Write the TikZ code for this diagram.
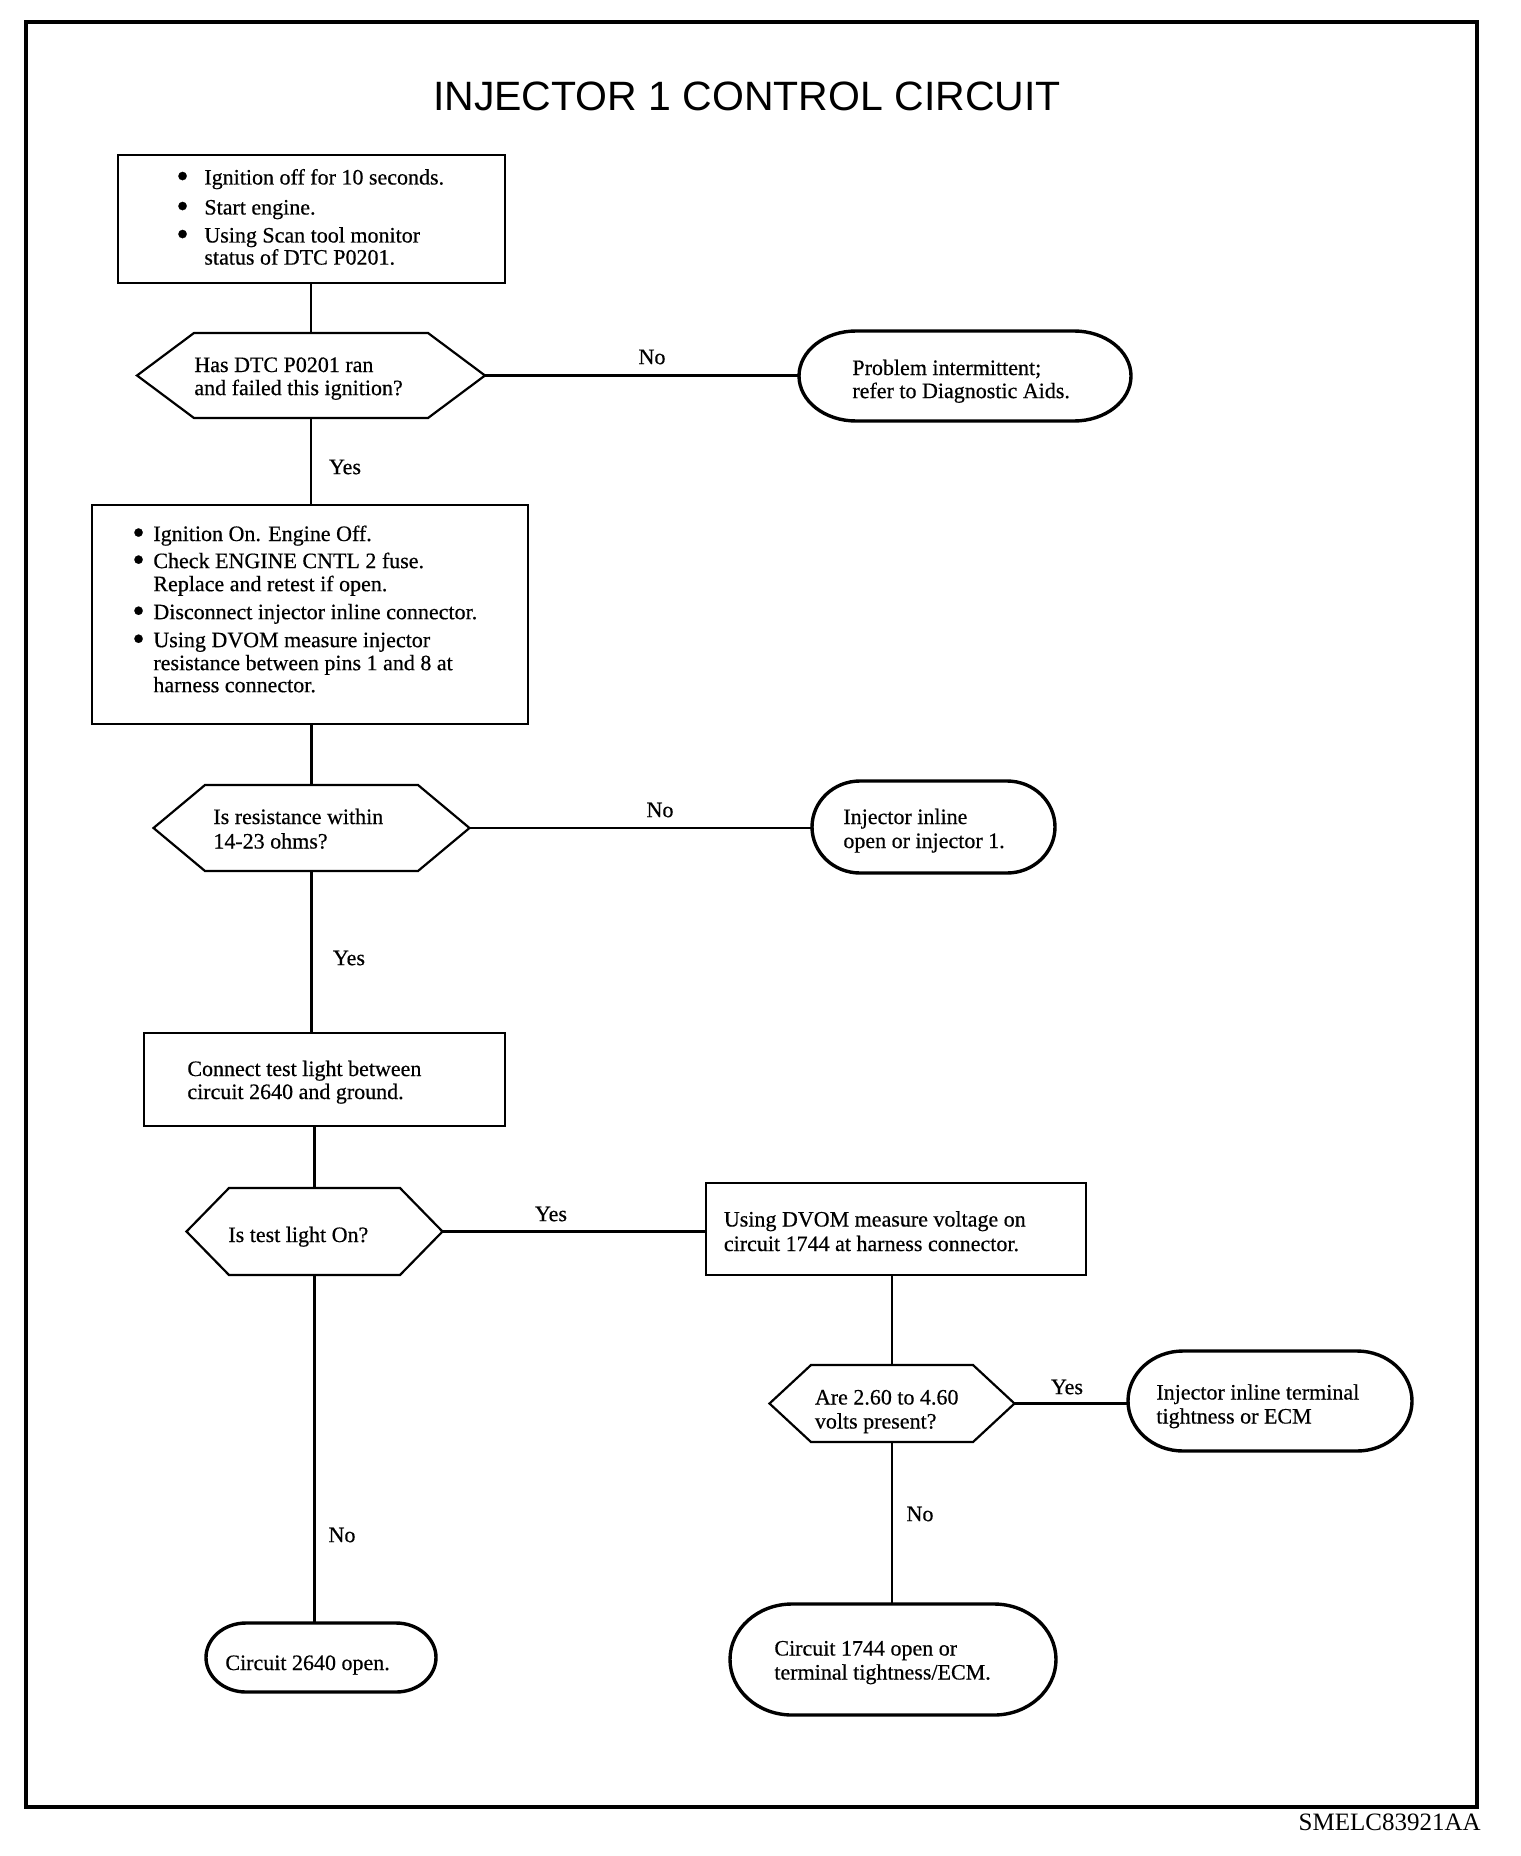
\documentclass[tikz,border=0pt]{standalone}
\usepackage{fontspec}
\setmainfont{Liberation Serif}
\newfontfamily\heavyfam{Liberation Serif}[FakeBold=0.5]
\newfontfamily\titlefont{Liberation Sans}
\usetikzlibrary{calc}
\newcommand\bodyfont{\heavyfam\fontsize{11pt}{11pt}\selectfont}
\newcommand\bigbul{\raisebox{-1.6pt}{\scalebox{1.6}{\textbullet}}}
\newcommand\bulA{\makebox[14pt][l]{\bigbul}}
\newcommand\bulB{\makebox[9.5pt][l]{\hspace{-1pt}\bigbul}}
\newcommand\hexdraw[2]{%
  \draw[hexst] (#1.north west) -- (#1.north east) -- ([xshift=#2]#1.east) -- (#1.south east) -- (#1.south west) -- ([xshift=-#2]#1.west) -- cycle;
  \coordinate (#1R) at ([xshift=#2]#1.east);}
\newcommand\stad[3]{%
  \draw[termst] ([xshift=#2]#1.north west) -- ([xshift=-#2]#1.north east)
    arc[start angle=90,end angle=-90,x radius=#2,y radius=#3]
    -- ([xshift=#2]#1.south west)
    arc[start angle=270,end angle=90,x radius=#2,y radius=#3] -- cycle;}
\tikzset{
  shapebody/.style={inner sep=0pt, outer sep=0pt},
  boxst/.style={shapebody, draw, line width=1.2pt},
  hexst/.style={line width=1.1pt, line join=miter},
  termst/.style={line width=1.7pt},
  conn/.style={line width=1.1pt},
  txt/.style={inner sep=0pt, anchor=base west, font=\bodyfont},
  lbl/.style={inner sep=0pt, font=\bodyfont},
}
\begin{document}
\begin{tikzpicture}[x=0.5pt,y=-0.5pt]
\useasboundingbox (0,0) rectangle (1520,1856);
\draw[line width=2.3pt] (26,22) rectangle (1477,1807);
\node[font=\titlefont\fontsize{20.5pt}{24pt}\selectfont, inner sep=0pt] (title) at (747,96) {INJECTOR 1 CONTROL CIRCUIT};
\node[inner sep=0pt, anchor=east, font=\fontsize{12.5pt}{14pt}\selectfont] (code) at (1481,1822) {SMELC83921AA};

% shapes
\node[boxst, minimum width=193.5pt, minimum height=64pt] (b1) at (311.5,219) {};
\node[shapebody, minimum width=117pt, minimum height=42.5pt] (h1) at (311,375.5) {};
\hexdraw{h1}{28.5pt}
\node[shapebody, minimum width=166pt, minimum height=45pt] (t1) at (965,376) {};
\stad{t1}{28.5pt}{22.5pt}
\node[boxst, minimum width=218pt, minimum height=109.5pt] (b2) at (310,614.5) {};
\node[shapebody, minimum width=106.5pt, minimum height=43pt] (h2) at (311.5,828) {};
\hexdraw{h2}{25.75pt}
\node[shapebody, minimum width=121.5pt, minimum height=46pt] (t2) at (933.5,827) {};
\stad{t2}{24pt}{23pt}
\node[boxst, minimum width=180.5pt, minimum height=46.5pt] (b3) at (324.5,1079.5) {};
\node[shapebody, minimum width=85.5pt, minimum height=43.5pt] (h3) at (314.5,1231.5) {};
\hexdraw{h3}{21.25pt}
\node[boxst, minimum width=190pt, minimum height=46pt] (b4) at (896,1229) {};
\node[shapebody, minimum width=81pt, minimum height=38.5pt] (h4) at (892,1403.5) {};
\hexdraw{h4}{20.75pt}
\node[shapebody, minimum width=142pt, minimum height=50pt] (t3) at (1270,1401) {};
\stad{t3}{27.5pt}{25pt}
\node[shapebody, minimum width=163pt, minimum height=55.5pt] (t4) at (893,1659.5) {};
\stad{t4}{31pt}{27.75pt}
\node[shapebody, minimum width=115pt, minimum height=34.5pt] (t5) at (321,1657.5) {};
\stad{t5}{20pt}{17.25pt}

% connectors
\draw[conn] (h1.north |- b1.south) -- (h1.north);
\draw[conn] (h1R) -- (h1R -| t1.west);
\draw[conn] (h1.south) -- (h1.south |- b2.north);
\draw[conn] (h2.north |- b2.south) -- (h2.north);
\draw[conn] (h2R) -- (h2R -| t2.west);
\draw[conn] (h2.south) -- (h2.south |- b3.north);
\draw[conn] (h3.north |- b3.south) -- (h3.north);
\draw[conn] (h3R) -- (h3R -| b4.west);
\draw[conn] (h3.south) -- (h3.south |- t5.north);
\draw[conn] (h4.north |- b4.south) -- (h4.north);
\draw[conn] (h4R) -- (h4R -| t3.west);
\draw[conn] (h4.south) -- (h4.south |- t4.north);

% labels
\node[lbl] (no1) at (652,357) {No};
\node[lbl] (yes1) at (345,467) {Yes};
\node[lbl] (no2) at (660,810) {No};
\node[lbl] (yes2) at (349,958) {Yes};
\node[lbl] (yes3) at (551,1214) {Yes};
\node[lbl] (no4) at (342,1535) {No};
\node[lbl] (yes4) at (1067,1387) {Yes};
\node[lbl] (no3) at (920,1514) {No};

% texts
\node[txt] (x1) at (176,184.5) {\begin{tabular}[t]{@{}l@{}}\bulA Ignition off for 10 seconds.\\[4pt]\bulA Start engine.\\[3pt]\bulA Using Scan tool monitor\\\hspace{14pt}status of DTC P0201.\end{tabular}};
\node[txt] (x2) at (134,541) {\begin{tabular}[t]{@{}l@{}}\bulB Ignition On. Engine Off.\\[2.5pt]\bulB Check ENGINE CNTL 2 fuse.\\[0.5pt]\hspace{9.5pt}Replace and retest if open.\\[3pt]\bulB Disconnect injector inline connector.\\[3pt]\bulB Using DVOM measure injector\\[0.5pt]\hspace{9.5pt}resistance between pins 1 and 8 at\\\hspace{9.5pt}harness connector.\end{tabular}};
\node[txt] (x3) at (194,372) {\begin{tabular}[t]{@{}l@{}}Has DTC P0201 ran\\[0.5pt]and failed this ignition?\end{tabular}};
\node[txt] (x4) at (852,375) {\begin{tabular}[t]{@{}l@{}}Problem intermittent;\\[0.5pt]refer to Diagnostic Aids.\end{tabular}};
\node[txt] (x5) at (213,824) {\begin{tabular}[t]{@{}l@{}}Is resistance within\\[1.25pt]14-23 ohms?\end{tabular}};
\node[txt] (x6) at (843,824) {\begin{tabular}[t]{@{}l@{}}Injector inline\\[1pt]open or injector 1.\end{tabular}};
\node[txt] (x7) at (187,1076) {\begin{tabular}[t]{@{}l@{}}Connect test light between\\[0.5pt]circuit 2640 and ground.\end{tabular}};
\node[txt] (x8) at (228,1242) {Is test light On?};
\node[txt] (x9) at (723.5,1226.5) {\begin{tabular}[t]{@{}l@{}}Using DVOM measure voltage on\\[1.25pt]circuit 1744 at harness connector.\end{tabular}};
\node[txt] (x10) at (814.5,1404.5) {\begin{tabular}[t]{@{}l@{}}Are 2.60 to 4.60\\[1pt]volts present?\end{tabular}};
\node[txt] (x11) at (1156,1399.5) {\begin{tabular}[t]{@{}l@{}}Injector inline terminal\\[1pt]tightness or ECM\end{tabular}};
\node[txt] (x12) at (774,1655.5) {\begin{tabular}[t]{@{}l@{}}Circuit 1744 open or\\[1pt]terminal tightness/ECM.\end{tabular}};
\node[txt] (x13) at (225,1670) {Circuit 2640 open.};
\end{tikzpicture}
\end{document}
